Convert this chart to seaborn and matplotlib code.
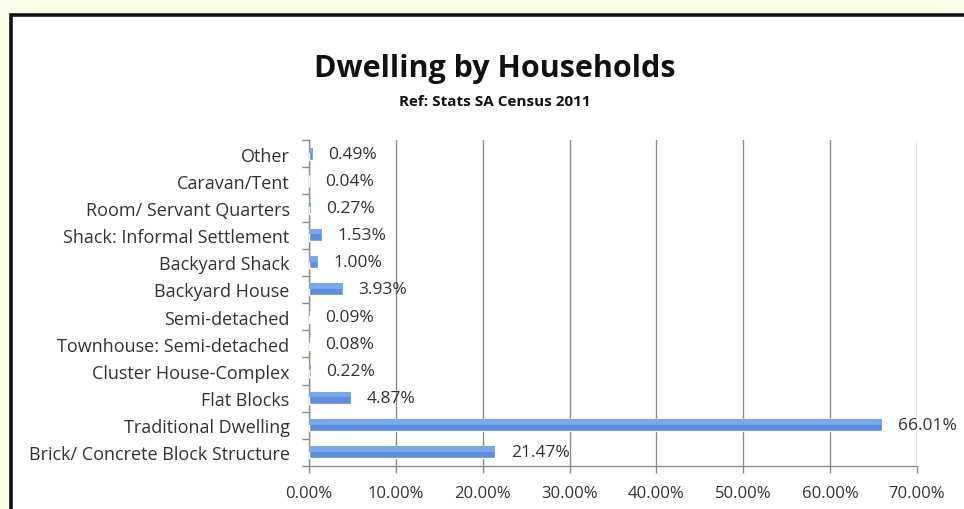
import numpy as np
import pandas as pd
import matplotlib
matplotlib.use("Agg")
import matplotlib.pyplot as plt
from matplotlib.patches import Rectangle
from matplotlib.ticker import FuncFormatter
import seaborn as sns

categories = [
    "Other",
    "Caravan/Tent",
    "Room/ Servant Quarters",
    "Shack: Informal Settlement",
    "Backyard Shack",
    "Backyard House",
    "Semi-detached",
    "Townhouse: Semi-detached",
    "Cluster House-Complex",
    "Flat Blocks",
    "Traditional Dwelling",
    "Brick/ Concrete Block Structure",
]
shares = [0.49, 0.04, 0.27, 1.53, 1.00, 3.93, 0.09, 0.08, 0.22, 4.87, 66.01, 21.47]
x_ticks = [0, 10, 20, 30, 40, 50, 60, 70]

df = pd.DataFrame({"Dwelling": categories, "Share": shares})

sns.set_style("white")
plt.rcParams["font.family"] = ["Open Sans", "DejaVu Sans"]

fig = plt.figure(figsize=(9.64, 5.10), dpi=100)
fig.patch.set_facecolor("#fbfbe9")

# white chart panel with a dark frame
W, H = 964, 510
panel = Rectangle((11 / W, -0.05), 1.0, 1 - 16 / H + 0.05, transform=fig.transFigure,
                  facecolor="white", edgecolor="#111111", linewidth=2.6, zorder=-10)
fig.patches.append(panel)

ax = fig.add_axes([309 / W, 1 - 467 / H, (917 - 309) / W, (467 - 141) / H])
ax.set_zorder(1)
ax.set_facecolor("none")

sns.barplot(data=df, x="Share", y="Dwelling", order=categories, color="#5a8ee0",
            width=0.44, saturation=1, ax=ax, zorder=3)

# soft highlight on the upper half of each bar
for bar in list(ax.patches):
    y0, h = bar.get_y(), bar.get_height()
    ax.add_patch(Rectangle((bar.get_x(), y0), bar.get_width(), h * 0.45,
                           facecolor="#7aa6ea", edgecolor="none", zorder=3.5))

for i, v in enumerate(shares):
    ax.annotate(f"{v:.2f}%", xy=(v, i), xytext=(11, 0), textcoords="offset points",
                ha="left", va="center", fontsize=12.5, color="#333333", zorder=4)

ax.set_xlim(0, 70)
ax.set_ylim(len(categories) - 0.5, -0.5)
ax.set_xticks(x_ticks)
ax.xaxis.set_major_formatter(FuncFormatter(lambda v, p: f"{v:.2f}%"))
ax.grid(axis="x", color="#8c8c8c", linewidth=1.0, zorder=1)
ax.set_axisbelow(True)

# category ticks sit between bars
ax.set_yticks(np.arange(-0.5, len(categories), 1), minor=True)
ax.tick_params(axis="y", which="major", length=0, labelsize=13, labelcolor="#333333", pad=14)
ax.tick_params(axis="y", which="minor", length=5, width=1, color="#8c8c8c", left=True)
ax.tick_params(axis="x", which="major", length=5, width=1, color="#8c8c8c", bottom=True,
               labelsize=12, labelcolor="#333333", pad=9)

for s in ["top", "right"]:
    ax.spines[s].set_visible(False)
for s in ["left", "bottom"]:
    ax.spines[s].set_color("#8c8c8c")
    ax.spines[s].set_linewidth(1.0)

ax.set_xlabel("")
ax.set_ylabel("")

fig.text(495 / W, 1 - 69 / H, "Dwelling by Households", ha="center", va="center",
         fontsize=22, fontweight="bold", color="#111111")
fig.text(495 / W, 1 - 102 / H, "Ref: Stats SA Census 2011", ha="center", va="center",
         fontsize=11, fontweight="bold", color="#111111")

fig.savefig("out.png", dpi=100, facecolor=fig.get_facecolor())
